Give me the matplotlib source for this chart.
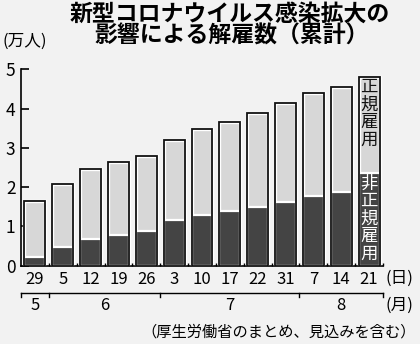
"""
Cumulative dismissals due to COVID-19 (Japan, MHLW)
"""

import matplotlib
matplotlib.use('Agg')
import matplotlib.pyplot as plt
import matplotlib.transforms as mtransforms
import numpy as np

#---------------------------------------------------------------------------------------------------
# Data (10k persons)
#---------------------------------------------------------------------------------------------------

days = ['29', '5', '12', '19', '26', '3', '10', '17', '22', '31', '7', '14', '21']
total = [1.65, 2.07, 2.46, 2.64, 2.80, 3.21, 3.49, 3.66, 3.90, 4.13, 4.40, 4.54, 4.81]
nonreg = [0.23, 0.48, 0.68, 0.79, 0.89, 1.16, 1.30, 1.39, 1.50, 1.62, 1.78, 1.88, 2.35]

months = ['5', '6', '7', '8']
month_edges = [-0.5, 0.5, 4.5, 9.5, 12.5]

title1 = '新型コロナウイルス感染拡大の'
title2 = '影響による解雇数（累計）'
source = '（厚生労働省のまとめ、見込みを含む）'

bg = '#f2f2f2'
c_light = '#d7d7d7'
c_dark = '#444444'

plt.rcParams['font.family'] = ['Noto Sans CJK JP', 'DejaVu Sans']

#---------------------------------------------------------------------------------------------------
# Plot
#---------------------------------------------------------------------------------------------------

fig = plt.figure(figsize=(4.2, 3.44), dpi=100, facecolor=bg)
ax = fig.add_axes([0.05, 0.2276, 0.862, 0.5709], facecolor=bg)

x = np.arange(len(days))
ax.bar(x, total, width=0.75, color=c_light, edgecolor='white', lw=2.4, zorder=2)
ax.bar(x, nonreg, width=0.75, color=c_dark, edgecolor='white', lw=1.6, zorder=3)
ax.bar(x, total, width=0.75, color='none', edgecolor='#111111', lw=1.3, zorder=4)

# labels inside the last (legend) bar
step = 0.445
for k, ch in enumerate('正規雇用'):
    ax.text(x[-1], 4.77 - step/2 - k*step, ch, ha='center', va='center', fontsize=12.5,
            color='#111111', zorder=5)
for k, ch in enumerate('非正規雇用'):
    ax.text(x[-1], 2.31 - step/2 - k*step, ch, ha='center', va='center', fontsize=12.5,
            color='white', zorder=5)

ax.set_xlim(-0.5, 12.5)
ax.set_ylim(0, 5)
for s in ['top', 'right']:
    ax.spines[s].set_visible(False)
ax.spines['left'].set_linewidth(1.2)
ax.spines['bottom'].set_linewidth(1.2)

ax.set_yticks(range(6))
ax.tick_params(axis='y', direction='in', length=6, width=1.2, pad=4, labelsize=12.5)
ax.set_xticks(x)
ax.set_xticklabels(days)
ax.tick_params(axis='x', which='major', length=0, pad=3.5, labelsize=12)
ax.set_xticks(x + 0.5, minor=True)
ax.tick_params(axis='x', which='minor', direction='in', length=2.5, width=1.0)

# month bracket
trans = mtransforms.blended_transform_factory(ax.transData, ax.transAxes)
yb = -0.139
ax.plot([month_edges[0], month_edges[-1]], [yb, yb], color='black', lw=1.0,
        transform=trans, clip_on=False)
for e in month_edges:
    ax.plot([e, e], [yb, yb - 0.018], color='black', lw=1.0, transform=trans, clip_on=False)
for m, a, b in zip(months, month_edges[:-1], month_edges[1:]):
    ax.text(0.5*(a + b), -0.205, m, ha='center', va='center', fontsize=12, transform=trans)

ax.text(399/420, 1 - 278/344, '(日)', ha='center', va='center', fontsize=12,
        transform=fig.transFigure)
ax.text(399/420, 1 - 305/344, '(月)', ha='center', va='center', fontsize=12,
        transform=fig.transFigure)

fig.text(3/420, 1 - 41/344, '(万人)', ha='left', va='center', fontsize=12)
fig.text(230/420, 1 - 14/344, title1, ha='center', va='center', fontsize=16.5, weight='bold')
fig.text(232/420, 1 - 36/344, title2, ha='center', va='center', fontsize=16.5, weight='bold')
fig.text(416/420, 1 - 332/344, source, ha='right', va='center', fontsize=11)

plt.savefig('out.png', dpi=100, facecolor=bg)
